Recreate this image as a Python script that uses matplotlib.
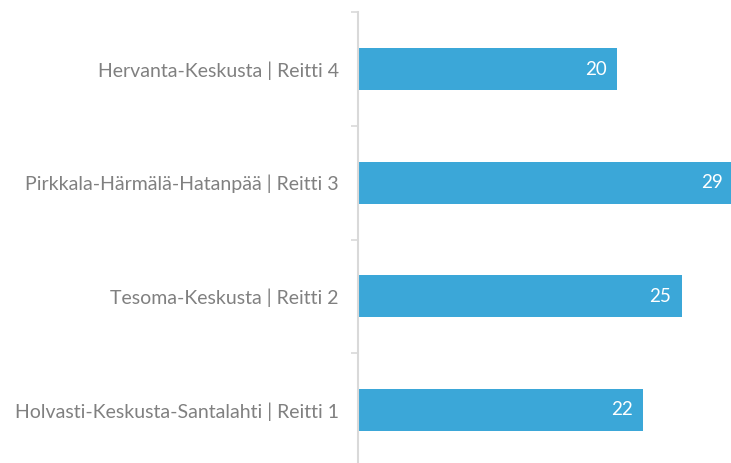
import matplotlib
matplotlib.use('Agg')
import matplotlib.pyplot as plt

routes = ['Holvasti-Keskusta-Santalahti | Reitti 1',
          'Tesoma-Keskusta | Reitti 2',
          'Pirkkala-Härmälä-Hatanpää | Reitti 3',
          'Hervanta-Keskusta | Reitti 4']
values = [22, 25, 29, 20]

bar_color = '#3BA7D8'
text_color = '#808080'

plt.rcParams['font.family'] = ['Lato', 'DejaVu Sans']

fig = plt.figure(figsize=(7.31, 4.63), dpi=100)
ax = fig.add_axes([358 / 731, -0.0081, 1 - 358 / 731, 0.9816])

y = list(range(len(routes)))
bars = ax.barh(y, values, height=0.37, color=bar_color)
ax.set_xlim(0, 28.8)
ax.set_ylim(-0.5, len(routes) - 0.5)

for b, v in zip(bars, values):
    ax.text(b.get_width() - 0.8, b.get_y() + b.get_height() / 2, str(v),
            ha='right', va='center', color='white', fontsize=13.5)

ax.set_yticks(y)
ax.set_yticklabels(routes, fontsize=14, color=text_color)
ax.set_yticks([i - 0.5 for i in range(len(routes) + 1)], minor=True)
ax.tick_params(axis='y', which='major', length=0, pad=14)
ax.tick_params(axis='y', which='minor', length=5, color='#D9D9D9', width=1.2)
ax.set_xticks([])
for s in ['top', 'right', 'bottom']:
    ax.spines[s].set_visible(False)
ax.spines['left'].set_color('#D9D9D9')
ax.spines['left'].set_linewidth(1.5)

fig.savefig('out.png', dpi=100)
